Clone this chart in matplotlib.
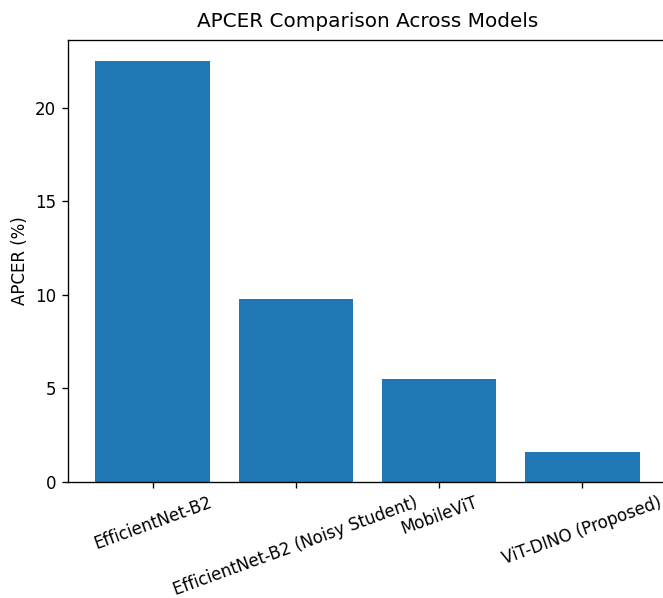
import matplotlib
matplotlib.use("Agg")
import matplotlib.pyplot as plt

models = ["EfficientNet-B2", "EfficientNet-B2 (Noisy Student)", "MobileViT", "ViT-DINO (Proposed)"]
apcer = [22.5, 9.8, 5.5, 1.6]

W, H = 663, 598
fig = plt.figure(figsize=(W / 120, H / 120), dpi=120)
ax = fig.add_axes([68 / W, (H - 482) / H, (667 - 68) / W, (482 - 40) / H])

ax.bar(models, apcer, color="#1f77b4")
ax.set_title("APCER Comparison Across Models", pad=8)
ax.set_ylabel("APCER (%)")
plt.setp(ax.get_xticklabels(), rotation=20)
# the original image is cropped just before the right spine
ax.spines["right"].set_visible(False)

fig.savefig("out.png", dpi=120)
